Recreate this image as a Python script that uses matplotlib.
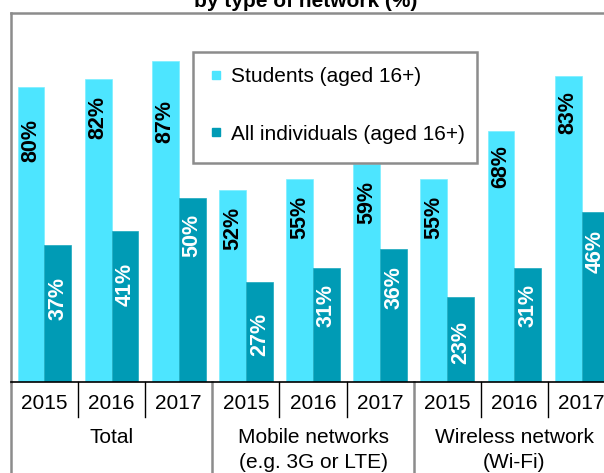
import matplotlib
matplotlib.use("Agg")
import matplotlib.pyplot as plt
from matplotlib.lines import Line2D
from matplotlib.patches import Rectangle

plt.rcParams['font.family'] = ['Liberation Sans', 'DejaVu Sans']

# data
years = ['2015', '2016', '2017'] * 3
groups = ['Total', 'Mobile networks\n(e.g. 3G or LTE)', 'Wireless network\n(Wi-Fi)']
students = [80, 82, 87, 52, 55, 59, 55, 68, 83]
all_ind = [37, 41, 50, 27, 31, 36, 23, 31, 46]
names = ['Students (aged 16+)', 'All individuals (aged 16+)']

c_stu = '#4de5ff'
c_all = '#009bb5'
gray = '#8c8c8c'

# how far below the bar top each label sits (in %)
off_stu = [14.6, 10.3, 16.3, 10.3, 10.3, 10.3, 10.3, 9.5, 10.0]
off_all = [14.4, 14.6, 10.3, 14.1, 10.3, 10.3, 12.2, 10.3, 10.6]

W, H = 604, 473
fig = plt.figure(figsize=(W / 100, H / 100), dpi=100)
slot = 67.14
left_px, top_px, bot_px = 10.9, 13, 382
ax = fig.add_axes([left_px / W, 1 - bot_px / H, 9 * slot / W, (bot_px - top_px) / H])

x = list(range(9))
ax.bar([i - 0.2 for i in x], students, 0.4, color=c_stu, edgecolor='#7aefff', linewidth=0.5)
ax.bar([i + 0.2 for i in x], all_ind, 0.4, color=c_all, edgecolor='#1aa9bf', linewidth=0.5)

for i in x:
    ax.text(i - 0.2, students[i] - off_stu[i], '%d%%' % students[i], rotation=90,
            ha='center', va='center', fontsize=15.5, fontweight='bold', color='black')
    ax.text(i + 0.2, all_ind[i] - off_all[i], '%d%%' % all_ind[i], rotation=90,
            ha='center', va='center', fontsize=15.5, fontweight='bold', color='white')

ax.set_xlim(-0.5, 8.5)
ax.set_ylim(0, 100)
ax.set_yticks([])
ax.set_xticks([])
for s in ['top', 'left']:
    ax.spines[s].set_color(gray)
    ax.spines[s].set_linewidth(1.8)
ax.spines['right'].set_visible(False)
ax.spines['bottom'].set_color('black')
ax.spines['bottom'].set_linewidth(1.2)

# table-like axis below the bars
tr = ax.get_xaxis_transform()
px = 1.0 / (bot_px - top_px)
for b in range(1, 9):
    xb = b - 0.5
    if b % 3 == 0:
        ax.plot([xb, xb], [0, -(H - bot_px + 5) * px], color=gray, lw=1.8,
                transform=tr, clip_on=False)
    else:
        ax.plot([xb, xb], [0, -(417 - bot_px) * px], color='black', lw=1.0,
                transform=tr, clip_on=False)
ax.plot([-0.5, -0.5], [0, -(H - bot_px + 5) * px], color=gray, lw=1.8,
        transform=tr, clip_on=False)

for i in x:
    ax.text(i, -(403.5 - bot_px) * px, years[i], ha='center', va='center',
            fontsize=15, transform=tr)
for g in range(3):
    ax.text(3 * g + 1, -(428 - bot_px) * px, groups[g], ha='center', va='top',
            fontsize=15, linespacing=1.38, transform=tr)

# legend: entries from the library, frame drawn as a plain box
ax.add_patch(Rectangle((193 / W, 1 - 163 / H), 284 / W, 111 / H,
                       transform=fig.transFigure, facecolor='white',
                       edgecolor=gray, linewidth=1.8, zorder=4, clip_on=False))
handles = [Line2D([], [], ls='none', marker='s', markersize=6, color=c_stu),
           Line2D([], [], ls='none', marker='s', markersize=6, color=c_all)]
leg = ax.legend(handles, names, loc='upper left',
                bbox_to_anchor=(201 / W, 1 - 67 / H), bbox_transform=fig.transFigure,
                fontsize=15, frameon=False, labelspacing=1.85, borderpad=0,
                handlelength=1.43, handletextpad=0.0, borderaxespad=0)
leg.set_zorder(6)

fig.text(305.5 / W, 1 - 7 / H, 'by type of network (%)', ha='center', va='baseline',
         fontsize=15, fontweight='bold')

fig.savefig('out.png', dpi=100)
